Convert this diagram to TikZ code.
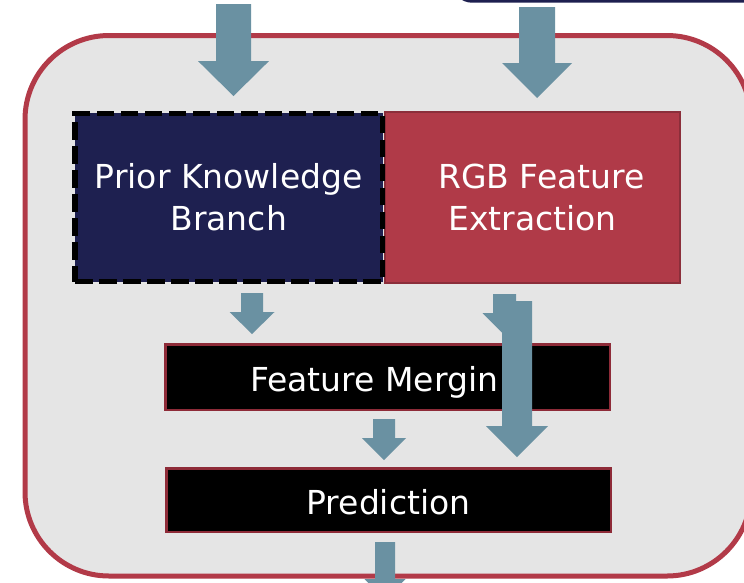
\documentclass[tikz,border=0pt]{standalone}
\usepackage{fontspec}
\newfontfamily\boxfont{DejaVu Sans}
\usetikzlibrary{calc}

\definecolor{framered}{RGB}{178,58,72}
\definecolor{rgbred}{RGB}{176,58,72}
\definecolor{rgbedge}{RGB}{139,46,58}
\definecolor{navyblue}{RGB}{30,32,80}
\definecolor{panelgray}{RGB}{229,229,229}
\definecolor{flowblue}{RGB}{106,145,162}
\definecolor{stepedge}{RGB}{142,43,56}

% block arrow: #1 start, #2 tip, #3 shaft half width, #4 head half width, #5 head length
\newcommand\blockarrow[5]{%
  \fill[flowblue] let \p1=#1, \p2=#2 in
    (\x1-#3pt,\y1) -- (\x1+#3pt,\y1) -- (\x1+#3pt,\y2+#5pt) -- (\x1+#4pt,\y2+#5pt)
    -- (\x2,\y2) -- (\x1-#4pt,\y2+#5pt) -- (\x1-#3pt,\y2+#5pt) -- cycle;}

\tikzset{
  boxtext/.style={text=white, font=\boxfont\fontsize{33}{42}\selectfont, align=center, inner sep=0pt},
  pkbox/.style={rectangle, fill=navyblue, draw=black, line width=5.5pt, dash pattern=on 17.5pt off 6.5pt,
    outer sep=0pt, minimum width=307.5pt, minimum height=168.3pt, boxtext},
  rgbbox/.style={rectangle, fill=rgbred, draw=rgbedge, line width=1.5pt,
    outer sep=0pt, minimum width=295pt, minimum height=171pt, boxtext},
  stepbox/.style={rectangle, fill=black, draw=stepedge, line width=2.5pt,
    outer sep=0pt, minimum width=444.5pt, boxtext},
}

\begin{document}
\begin{tikzpicture}[x=1pt,y=-1pt]
\useasboundingbox (0,0) rectangle (744,582);
\clip (0,0) rectangle (744,582);

% white page
\fill[white] (0,0) rectangle (744,582);

% upper module border peeking in at the top
\draw[navyblue, line width=3pt, fill=white, rounded corners=18pt] (454,-60) rectangle (800,1.2);

% outer panel
\draw[framered, fill=panelgray, line width=5pt, rounded corners=84pt] (25,35.5) rectangle (751,576);

% inputs
\coordinate (in1) at (233.5,4);
\coordinate (in2) at (537,7);

% branches
\node[rgbbox] (rgb) at (532.5,197.5) {\hspace*{18pt}RGB Feature\\Extraction};
\node[pkbox] (pk) at (228.75,197.5) {Prior Knowledge\\Branch};

\blockarrow{(in1)}{($(pk.north)+(4.75,-17.3)$)}{17.5}{35.5}{35}
\blockarrow{(in2)}{($(rgb.north)+(4.5,-14)$)}{18}{35}{35}

% merging step
\node[stepbox, minimum height=65.5pt] (fm) at (387.5,377) {};
\node[boxtext, anchor=base west] (fmtext) at (250,391) {Feature Mergin};

\blockarrow{($(pk.south)+(23.25,11.4)$)}{($(fm.north)+(-135.5,-10.25)$)}{11}{22.5}{22}
\blockarrow{($(rgb.south)+(-28,11)$)}{($(fm.north)+(117,-9.25)$)}{11.5}{22}{22}

% prediction step
\node[stepbox, minimum height=63.5pt] (pred) at (388.5,500) {};
\node[boxtext, anchor=base] (predtext) at (388.5,514) {Prediction};

\blockarrow{($(rgb.south)+(-15.5,18)$)}{($(pred.north)+(128.5,-11.25)$)}{15}{31}{31}
\blockarrow{($(fm.south)+(-3.5,9.25)$)}{($(pred.north)+(-4.5,-8.25)$)}{11}{22}{22}

% output
\coordinate (out) at (385,600);
\blockarrow{($(pred.south)+(-3.5,10.25)$)}{(out)}{10}{20.5}{21}
\end{tikzpicture}
\end{document}
